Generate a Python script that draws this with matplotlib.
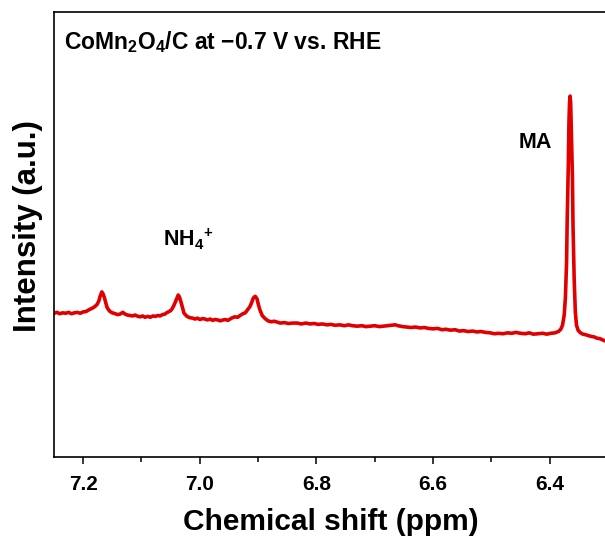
import matplotlib
matplotlib.use("Agg")
import matplotlib.pyplot as plt
from matplotlib.ticker import MultipleLocator, FormatStrFormatter

plt.rcParams["font.family"] = ["Liberation Sans", "DejaVu Sans"]
plt.rcParams["font.weight"] = "bold"
plt.rcParams["mathtext.fontset"] = "custom"
plt.rcParams["mathtext.rm"] = "Liberation Sans:bold"
plt.rcParams["mathtext.bf"] = "Liberation Sans:bold"
plt.rcParams["mathtext.it"] = "Liberation Sans:bold"

# 1H NMR spectrum (chemical shift in ppm, intensity in arbitrary units)
shift_ppm = [
    7.250, 7.245, 7.240, 7.235, 7.230, 7.225, 7.220, 7.215, 7.210, 7.205,
    7.200, 7.195, 7.190, 7.185, 7.180, 7.176, 7.173, 7.171, 7.168, 7.166,
    7.164, 7.161, 7.159, 7.156, 7.154, 7.150, 7.145, 7.141, 7.137, 7.132,
    7.128, 7.124, 7.120, 7.115, 7.111, 7.106, 7.102, 7.098, 7.094, 7.089,
    7.085, 7.080, 7.076, 7.072, 7.068, 7.064, 7.060, 7.057, 7.054, 7.050,
    7.048, 7.045, 7.042, 7.039, 7.037, 7.035, 7.032, 7.029, 7.027, 7.022,
    7.017, 7.012, 7.008, 7.004, 7.000, 6.995, 6.991, 6.987, 6.982, 6.978,
    6.974, 6.969, 6.965, 6.960, 6.956, 6.952, 6.948, 6.944, 6.940, 6.935,
    6.931, 6.926, 6.922, 6.918, 6.914, 6.911, 6.909, 6.907, 6.905, 6.902,
    6.900, 6.897, 6.893, 6.888, 6.883, 6.878, 6.872, 6.867, 6.862, 6.855,
    6.848, 6.840, 6.833, 6.826, 6.818, 6.811, 6.804, 6.797, 6.790, 6.782,
    6.775, 6.768, 6.760, 6.752, 6.745, 6.738, 6.730, 6.722, 6.715, 6.708,
    6.700, 6.692, 6.685, 6.678, 6.670, 6.665, 6.660, 6.652, 6.645, 6.638,
    6.630, 6.622, 6.615, 6.608, 6.600, 6.592, 6.585, 6.578, 6.570, 6.562,
    6.555, 6.548, 6.540, 6.532, 6.525, 6.518, 6.510, 6.502, 6.495, 6.488,
    6.480, 6.472, 6.465, 6.458, 6.450, 6.442, 6.435, 6.428, 6.420, 6.412,
    6.405, 6.398, 6.391, 6.385, 6.381, 6.378, 6.375, 6.373, 6.371, 6.370,
    6.368, 6.367, 6.366, 6.365, 6.364, 6.363, 6.361, 6.360, 6.358, 6.356,
    6.354, 6.351, 6.347, 6.343, 6.339, 6.334, 6.329, 6.324, 6.319, 6.314,
    6.309, 6.305,
]
intensity = [
    3.23, 3.25, 3.22, 3.24, 3.23, 3.25, 3.22, 3.24, 3.25, 3.23,
    3.26, 3.27, 3.31, 3.34, 3.38, 3.43, 3.51, 3.61, 3.71, 3.67,
    3.60, 3.46, 3.36, 3.30, 3.27, 3.24, 3.22, 3.20, 3.21, 3.25,
    3.21, 3.19, 3.18, 3.17, 3.19, 3.16, 3.15, 3.17, 3.14, 3.16,
    3.14, 3.17, 3.16, 3.18, 3.17, 3.20, 3.21, 3.24, 3.26, 3.29,
    3.32, 3.39, 3.48, 3.58, 3.64, 3.60, 3.47, 3.33, 3.23, 3.16,
    3.13, 3.12, 3.10, 3.12, 3.09, 3.11, 3.10, 3.08, 3.10, 3.07,
    3.09, 3.08, 3.06, 3.08, 3.09, 3.07, 3.10, 3.13, 3.15, 3.14,
    3.18, 3.22, 3.24, 3.31, 3.38, 3.47, 3.55, 3.59, 3.61, 3.56,
    3.45, 3.31, 3.18, 3.11, 3.06, 3.04, 3.05, 3.03, 3.01, 3.02,
    3.00, 3.01, 3.01, 2.99, 3.01, 2.99, 3.00, 2.98, 2.99, 2.97,
    2.98, 2.96, 2.97, 2.95, 2.97, 2.95, 2.94, 2.95, 2.93, 2.94,
    2.95, 2.93, 2.94, 2.95, 2.96, 2.97, 2.95, 2.93, 2.92, 2.91,
    2.92, 2.90, 2.91, 2.89, 2.88, 2.89, 2.86, 2.87, 2.85, 2.86,
    2.83, 2.84, 2.82, 2.83, 2.81, 2.82, 2.80, 2.79, 2.77, 2.78,
    2.77, 2.79, 2.78, 2.80, 2.78, 2.77, 2.79, 2.76, 2.77, 2.78,
    2.76, 2.78, 2.79, 2.82, 2.87, 2.96, 3.20, 3.60, 4.40, 5.30,
    6.60, 7.50, 7.95, 8.11, 7.95, 7.40, 6.30, 5.20, 4.00, 3.25,
    2.96, 2.84, 2.79, 2.76, 2.75, 2.73, 2.71, 2.70, 2.67, 2.66,
    2.63, 2.61,
]

peak_labels = ["NH$_4$$^{\\!+}$", "MA"]
label_ppm = [7.020, 6.424]
label_int = [4.88, 7.06]

fig = plt.figure(figsize=(6.05, 5.42), dpi=100)
ax = fig.add_axes([54 / 605, 85 / 542, 554 / 605, 445 / 542])

ax.plot(shift_ppm, intensity, color="#e00000", lw=2.6, solid_joinstyle="round")

ax.set_xlim(7.25, 6.30)
ax.set_ylim(0, 10)
ax.xaxis.set_major_locator(MultipleLocator(0.2))
ax.xaxis.set_minor_locator(MultipleLocator(0.1))
ax.xaxis.set_major_formatter(FormatStrFormatter("%.1f"))
ax.set_yticks([])
ax.tick_params(axis="x", which="major", direction="out", length=5, width=1.1,
               labelsize=15, pad=8)
ax.tick_params(axis="x", which="minor", direction="out", length=3.5, width=1.1)
for s in ax.spines.values():
    s.set_linewidth(1.2)

ax.set_xlabel("Chemical shift (ppm)", fontsize=21.5, fontweight="bold", labelpad=10)
ax.set_ylabel("Intensity (a.u.)", fontsize=22.5, fontweight="bold")
ax.yaxis.set_label_coords(-0.02, 0.52)

ax.text(0.018, 0.962, "CoMn$_2$O$_4$/C at \u22120.7 V vs. RHE", transform=ax.transAxes,
        fontsize=16.5, fontweight="bold", ha="left", va="top")
for txt, px, py in zip(peak_labels, label_ppm, label_int):
    ax.text(px, py, txt, fontsize=15.5, fontweight="bold", ha="center", va="center")

fig.savefig("out.png", dpi=100)
